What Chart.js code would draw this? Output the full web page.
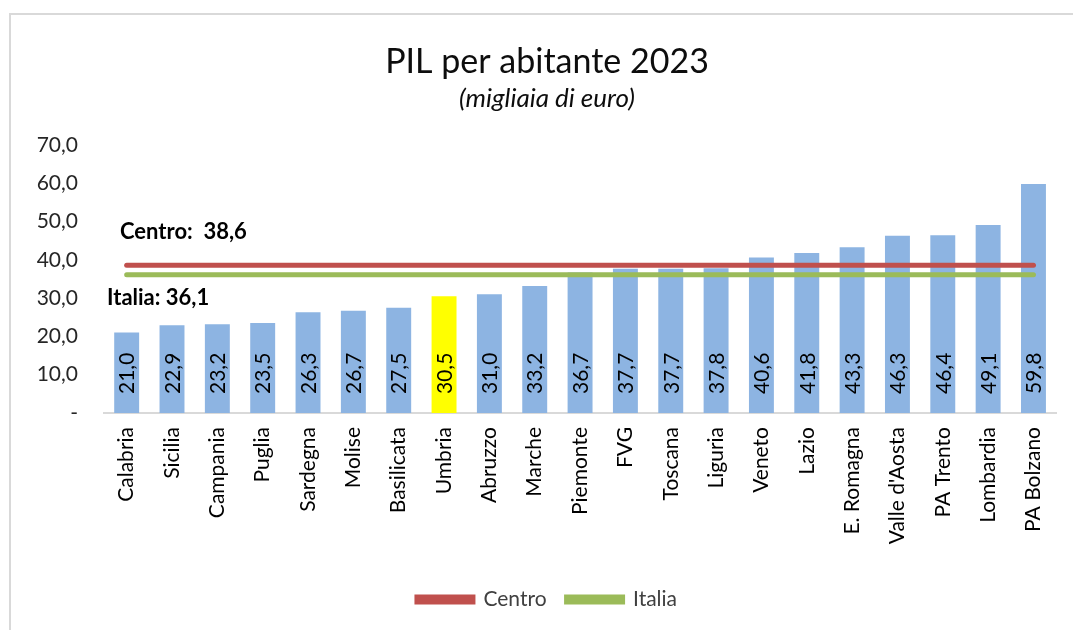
<!DOCTYPE html>
<html>
<head>
<meta charset="utf-8">
<script src="https://cdn.jsdelivr.net/npm/chart.js@4.4.1/dist/chart.umd.min.js"></script>
<style>
  body { margin: 0; background: #fff; }
  #wrap { position: relative; width: 1073px; height: 630px; }
  #frame { position: absolute; left: 9px; top: 13px; right: 0; bottom: 0;
           border-top: 2px solid #d9d9d9; border-left: 2px solid #d9d9d9; pointer-events: none; }
  canvas { position: absolute; left: 0; top: 0; }
</style>
</head>
<body>
<div id="wrap">
  <canvas id="pilChart" width="1073" height="630"></canvas>
  <div id="frame"></div>
</div>
<script>
// dati PIL per abitante 2023 (migliaia di euro)
var regioni = ['Calabria', 'Sicilia', 'Campania', 'Puglia', 'Sardegna', 'Molise', 'Basilicata', 'Umbria',
    'Abruzzo', 'Marche', 'Piemonte', 'FVG', 'Toscana', 'Liguria', 'Veneto', 'Lazio', 'E. Romagna',
    "Valle d'Aosta", 'PA Trento', 'Lombardia', 'PA Bolzano'];
var pil = [21.0, 22.9, 23.2, 23.5, 26.3, 26.7, 27.5, 30.5, 31.0, 33.2, 36.7, 37.7, 37.7, 37.8, 40.6, 41.8, 43.3, 46.3, 46.4, 49.1, 59.8];
var centro = [38.6, 38.6, 38.6, 38.6, 38.6, 38.6, 38.6, 38.6, 38.6, 38.6, 38.6, 38.6, 38.6, 38.6, 38.6, 38.6, 38.6, 38.6, 38.6, 38.6, 38.6];
var italia = [36.1, 36.1, 36.1, 36.1, 36.1, 36.1, 36.1, 36.1, 36.1, 36.1, 36.1, 36.1, 36.1, 36.1, 36.1, 36.1, 36.1, 36.1, 36.1, 36.1, 36.1];
var yTicks = [0, 10, 20, 30, 40, 50, 60, 70];

function fmt(v) {
    return v.toFixed(1).replace('.', ',');
}

var barColors = regioni.map(function (r) { return r === 'Umbria' ? '#FFFF00' : '#8DB4E2'; });

// etichette dentro le barre + etichette delle linee
var labelsPlugin = {
    id: 'labelsPlugin',
    afterDatasetsDraw: function (chart) {
        var ctx = chart.ctx;
        var y = chart.scales.y;
        var base = y.getPixelForValue(0);
        var meta = chart.getDatasetMeta(2);
        ctx.save();
        ctx.fillStyle = '#000';
        ctx.font = '21px Lato';
        ctx.textAlign = 'left';
        ctx.textBaseline = 'middle';
        meta.data.forEach(function (bar, i) {
            ctx.save();
            ctx.translate(bar.x, base - 19);
            ctx.rotate(-Math.PI / 2);
            ctx.fillText(fmt(pil[i]), 0, 1);
            ctx.restore();
        });
        ctx.font = 'bold 22px Lato';
        var left = chart.chartArea.left;
        ctx.fillText('Centro:  ' + fmt(centro[0]), left + 16, y.getPixelForValue(centro[0]) - 33);
        ctx.fillText('Italia: ' + fmt(italia[0]), left + 3, y.getPixelForValue(italia[0]) + 23);
        ctx.restore();
    }
};

var ctx = document.getElementById('pilChart').getContext('2d');
var pilChart = new Chart(ctx, {
    type: 'bar',
    data: {
        labels: regioni,
        datasets: [{
            type: 'line',
            label: 'Centro',
            data: centro,
            borderColor: '#C0504D',
            backgroundColor: '#C0504D',
            borderWidth: 5,
            borderCapStyle: 'round',
            pointRadius: 0,
            order: 0
        }, {
            type: 'line',
            label: 'Italia',
            data: italia,
            borderColor: '#9BBB59',
            backgroundColor: '#9BBB59',
            borderWidth: 5,
            borderCapStyle: 'round',
            pointRadius: 0,
            order: 0
        }, {
            label: 'PIL',
            data: pil,
            backgroundColor: barColors,
            barPercentage: 0.55,
            categoryPercentage: 1,
            order: 1
        }]
    },
    options: {
        responsive: false,
        animation: false,
        layout: { padding: { left: 35, right: 14, top: 0, bottom: 10 } },
        plugins: {
            title: {
                display: true,
                text: 'PIL per abitante 2023',
                color: '#0d0d0d',
                font: { family: 'Lato', size: 34, weight: 'normal' },
                padding: { top: 42, bottom: 0 }
            },
            subtitle: {
                display: true,
                text: '(migliaia di euro)',
                color: '#0d0d0d',
                font: { family: 'Lato', size: 26, style: 'italic' },
                padding: { top: 0, bottom: 31 }
            },
            legend: {
                position: 'bottom',
                labels: {
                    filter: function (item) { return item.text !== 'PIL'; },
                    boxWidth: 56,
                    boxHeight: 5,
                    color: '#404040',
                    font: { family: 'Lato', size: 21 },
                    padding: 20
                }
            },
            tooltip: { enabled: false }
        },
        scales: {
            x: {
                grid: { display: false, drawTicks: false },
                border: { color: '#d9d9d9', width: 2 },
                ticks: {
                    color: '#000',
                    font: { family: 'Lato', size: 21 },
                    minRotation: 90,
                    maxRotation: 90,
                    autoSkip: false,
                    padding: 14
                },
                afterFit: function (scale) { scale.height = 156; }
            },
            y: {
                min: 0,
                max: 70,
                grid: { display: false, drawTicks: false },
                border: { display: false },
                afterBuildTicks: function (scale) {
                    scale.ticks = yTicks.map(function (v) { return { value: v }; });
                },
                ticks: {
                    color: '#262626',
                    font: { family: 'Lato', size: 21 },
                    padding: 26,
                    callback: function (value) { return value === 0 ? '-' : fmt(value); }
                },
                afterFit: function (scale) { scale.width = 69; }
            }
        }
    },
    plugins: [labelsPlugin]
});
</script>
</body>
</html>
